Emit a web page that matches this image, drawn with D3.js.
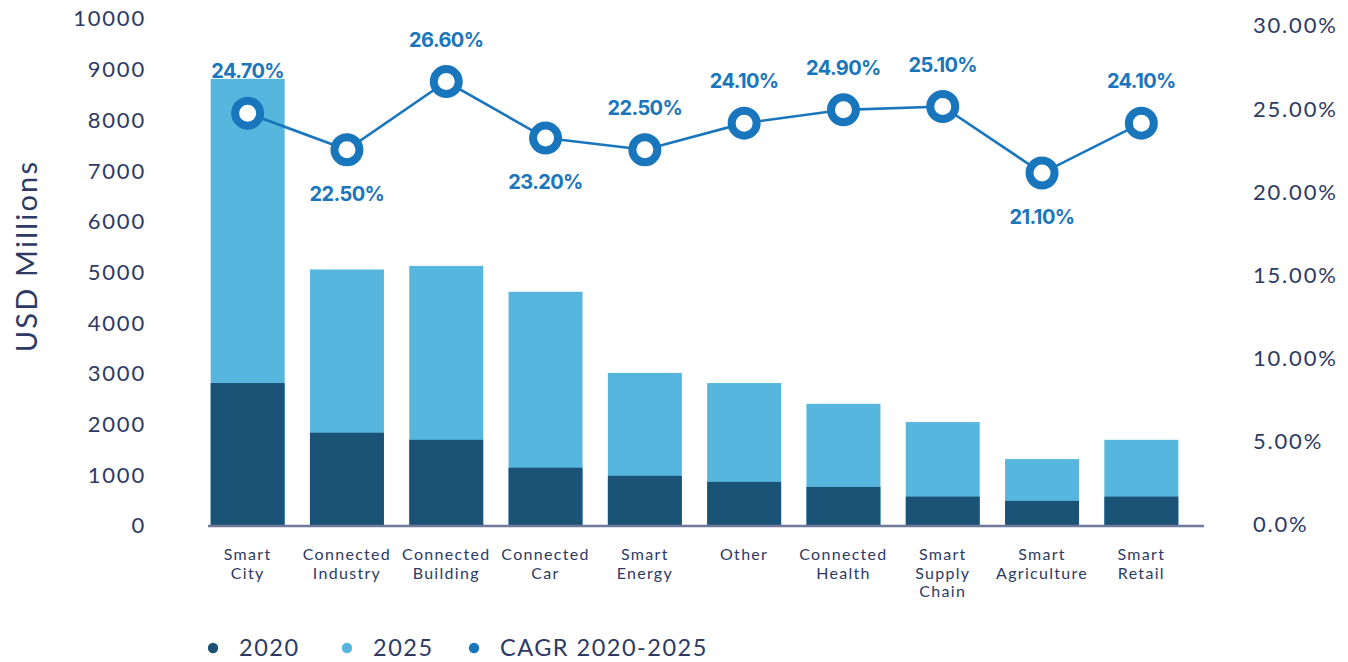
<!DOCTYPE html>
<html>
<head>
<meta charset="utf-8">
<script src="https://cdn.jsdelivr.net/npm/d3@7"></script>
<style>
  body { margin: 0; background: #ffffff; }
  svg { display: block; }
</style>
</head>
<body>
<svg id="chart" width="1348" height="662"></svg>
<script>
// IoT market segments, revenue in USD millions and growth rate
const categories = ["Smart City", "Connected Industry", "Connected Building", "Connected Car",
  "Smart Energy", "Other", "Connected Health", "Smart Supply Chain", "Smart Agriculture", "Smart Retail"];
const values2020 = [2800, 1820, 1680, 1130, 970, 850, 750, 560, 475, 560];
const values2025 = [8800, 5040, 5110, 4600, 3000, 2800, 2390, 2030, 1300, 1680];
const cagr = [24.7, 22.5, 26.6, 23.2, 22.5, 24.1, 24.9, 25.1, 21.1, 24.1];
const cagrLabelSide = ["above", "below", "above", "below", "above", "above", "above", "above", "below", "above"];
const leftTicks = [0, 1000, 2000, 3000, 4000, 5000, 6000, 7000, 8000, 9000, 10000];
const rightTicks = [0, 5, 10, 15, 20, 25, 30];
const rightTickLabels = ["0.0%", "5.00%", "10.00%", "15.00%", "20.00%", "25.00%", "30.00%"];
const legendItems = ["2020", "2025", "CAGR 2020-2025"];

const colors = { y2020: "#1b5377", y2025: "#56b6de", cagr: "#1a76bc", text: "#2d3a64", axis: "#6f7a9a" };
const tickFont = "Lato, 'DejaVu Sans', sans-serif";

const svg = d3.select("#chart");

const x = d3.scaleBand().domain(categories).range([198, 1191]).paddingInner(0.255).paddingOuter(0.1275);
const yLeft = d3.scaleLinear().domain([0, 10000]).range([525, 18]);
const yRight = d3.scaleLinear().domain([0, 30]).range([524, 25]);

// Left value axis (labels only)
const leftAxis = svg.append("g").attr("transform", "translate(146,0)")
  .call(d3.axisLeft(yLeft).tickValues(leftTicks).tickSize(0).tickPadding(0).tickFormat(d3.format("d")));
leftAxis.select(".domain").remove();
leftAxis.selectAll("text").attr("fill", colors.text).style("font-family", tickFont)
  .style("font-size", "22px").style("letter-spacing", "1.8px").attr("dy", "0.36em");

// Right percentage axis (labels only)
const rightAxis = svg.append("g").attr("transform", "translate(1253,0)")
  .call(d3.axisRight(yRight).tickValues(rightTicks).tickSize(0).tickPadding(0)
    .tickFormat((d, i) => rightTickLabels[i]));
rightAxis.select(".domain").remove();
rightAxis.selectAll("text").attr("fill", colors.text).style("font-family", tickFont)
  .style("font-size", "22px").style("letter-spacing", "1.8px").attr("dy", "0.36em");

// Axis title
svg.append("text")
  .attr("transform", "translate(37,256) rotate(-90)")
  .attr("text-anchor", "middle")
  .attr("fill", colors.text)
  .style("font-family", tickFont).style("font-size", "29px").style("letter-spacing", "2.2px")
  .text("USD Millions");

// Bars: 2025 total behind, 2020 in front
svg.append("g").selectAll("rect").data(categories).join("rect")
  .attr("x", d => x(d)).attr("width", x.bandwidth())
  .attr("y", (d, i) => yLeft(values2025[i]))
  .attr("height", (d, i) => yLeft(0) - yLeft(values2025[i]))
  .attr("fill", colors.y2025);
svg.append("g").selectAll("rect").data(categories).join("rect")
  .attr("x", d => x(d)).attr("width", x.bandwidth())
  .attr("y", (d, i) => yLeft(values2020[i]))
  .attr("height", (d, i) => yLeft(0) - yLeft(values2020[i]))
  .attr("fill", colors.y2020);

// Baseline
svg.append("line")
  .attr("x1", 208).attr("x2", 1204)
  .attr("y1", yLeft(0) + 1).attr("y2", yLeft(0) + 1)
  .attr("stroke", colors.axis).attr("stroke-width", 2.4);

// Category labels, one word per line
const catLabels = svg.append("g").selectAll("text").data(categories).join("text")
  .attr("x", d => x(d) + x.bandwidth() / 2)
  .attr("y", 560)
  .attr("text-anchor", "middle")
  .attr("fill", colors.text)
  .style("font-family", tickFont).style("font-size", "16px").style("letter-spacing", "1.3px");
catLabels.each(function(d) {
  d3.select(this).selectAll("tspan").data(d.split(" ")).join("tspan")
    .attr("x", x(d) + x.bandwidth() / 2)
    .attr("dy", (w, j) => j === 0 ? 0 : 18.5)
    .text(w => w);
});

// CAGR line with ring markers
const cx = (d, i) => x(categories[i]) + x.bandwidth() / 2;
const line = d3.line().x((d, i) => cx(d, i)).y(d => yRight(d));
svg.append("path").datum(cagr)
  .attr("d", line).attr("fill", "none")
  .attr("stroke", colors.cagr).attr("stroke-width", 2.6);
svg.append("g").selectAll("circle").data(cagr).join("circle")
  .attr("cx", cx).attr("cy", d => yRight(d))
  .attr("r", 12.5)
  .attr("fill", "#ffffff").attr("stroke", colors.cagr).attr("stroke-width", 8);

svg.append("g").selectAll("text").data(cagr).join("text")
  .attr("x", cx)
  .attr("y", (d, i) => yRight(d) + (cagrLabelSide[i] === "above" ? -35 : 51))
  .attr("text-anchor", "middle")
  .attr("fill", colors.cagr)
  .style("font-family", "Inter, 'Open Sans', sans-serif").style("font-weight", 700)
  .style("font-size", "20px").style("letter-spacing", "-0.6px")
  .text(d => d.toFixed(2) + "%");

// Legend
const legendX = [213, 347, 474];
const legendColors = [colors.y2020, colors.y2025, colors.cagr];
const legend = svg.append("g").selectAll("g").data(legendItems).join("g")
  .attr("transform", (d, i) => `translate(${legendX[i]},648)`);
legend.append("circle").attr("r", 5.2).attr("fill", (d, i) => legendColors[i]);
legend.append("text").attr("x", 26).attr("dy", "0.36em")
  .attr("fill", colors.text)
  .style("font-family", tickFont).style("font-size", "23.5px").style("letter-spacing", "1.5px")
  .text(d => d);
</script>
</body>
</html>
